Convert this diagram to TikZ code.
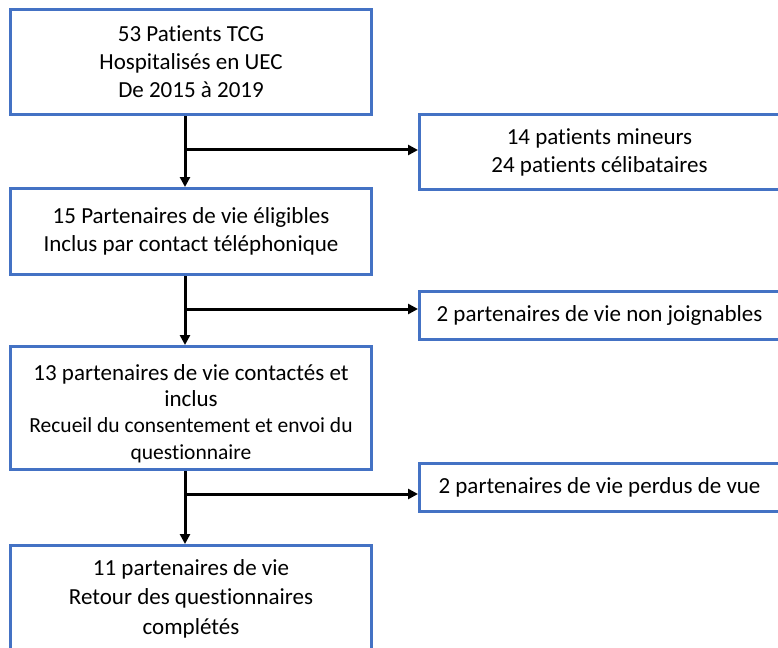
\documentclass[tikz,border=0pt]{standalone}
\usepackage{fontspec}
\setmainfont{Carlito}[Ligatures=NoCommon]
\usetikzlibrary{arrows.meta}
\definecolor{boxblue}{HTML}{4472C4}
\begin{document}
\begin{tikzpicture}[x=1pt,y=-1pt,
  flowbox/.style={draw=boxblue, line width=3pt, fill=white, anchor=north west,
    align=center, inner sep=0pt, font=\fontsize{23}{28}\selectfont},
  arr/.style={line width=3pt, -{Triangle[length=10pt,width=10pt]}}]
\useasboundingbox (0,0) rectangle (778,647);
\fill[white] (0,0) rectangle (778,647);
% main column
\node[flowbox, minimum width=361pt, minimum height=105pt] (b1) at (9,8)
  {53 Patients TCG\\Hospitalisés en UEC\\De 2015 à 2019};
\node[flowbox, minimum width=361pt, minimum height=86pt] (b2) at (9,187)
  {15 Partenaires de vie éligibles\\Inclus par contact téléphonique};
\node[flowbox, minimum width=361pt, minimum height=123pt] (b3) at (9,345)
  {\rule{0pt}{27pt}13 partenaires de vie contactés et\\[-2pt]inclus\\[-2pt]{\fontsize{21.5}{26}\selectfont Recueil du consentement et envoi du}\\[-1pt]{\fontsize{21.5}{26}\selectfont questionnaire}};
\node[flowbox, minimum width=361pt, minimum height=106pt, font=\fontsize{23}{29.5}\selectfont] (b4) at (9,544)
  {11 partenaires de vie\\Retour des questionnaires\\complétés};
% side boxes
\node[flowbox, minimum width=380pt, minimum height=75pt] (sA) at (418,113)
  {\hspace*{-20pt}14 patients mineurs\\\hspace*{-20pt}24 patients célibataires};
\node[flowbox, minimum width=380pt, minimum height=48pt] (sB) at (418,290)
  {\hspace*{-20pt}2 partenaires de vie non joignables};
\node[flowbox, minimum width=380pt, minimum height=48pt] (sC) at (418,462)
  {\hspace*{-20pt}2 partenaires de vie perdus de vue};
% connectors
\coordinate (v) at (185,0);
\coordinate (j1) at (185,150);
\coordinate (j2) at (185,309);
\coordinate (j3) at (185,494);
\draw[arr] (b1.south -| v) -- (b2.north -| v);
\draw[arr] (b2.south -| v) -- (b3.north -| v);
\draw[arr] (b3.south -| v) -- (b4.north -| v);
\draw[arr] (j1) -- (j1 -| sA.west);
\draw[arr] (j2) -- (j2 -| sB.west);
\draw[arr] (j3) -- (j3 -| sC.west);
\end{tikzpicture}
\end{document}
